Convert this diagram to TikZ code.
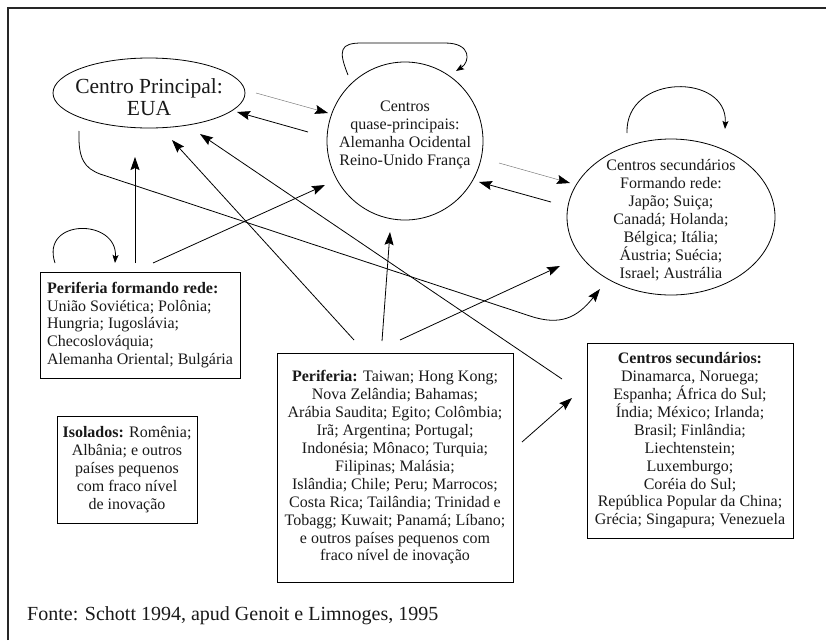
\documentclass[tikz,border=0pt]{standalone}
\usepackage{fontspec}
\setmainfont{Liberation Serif}
\usetikzlibrary{shapes.geometric,arrows.meta}
\begin{document}
\begin{tikzpicture}[x=1pt,y=-1pt,
  txt/.style={font=\fontsize{16}{17.9}\selectfont, align=center, inner sep=0pt, text=black!90},
  boxnode/.style={draw, line width=0.8pt, inner sep=0pt, align=center, text=black!90,
                  font=\fontsize{16}{17.9}\selectfont},
  ell/.style={draw, ellipse, line width=0.8pt, inner sep=0pt},
  arr/.style={line width=0.8pt, -{Stealth[length=13pt,width=9pt,inset=2pt]}},
  thinarr/.style={line width=0.45pt, draw=black!55, -{Stealth[length=13pt,width=9pt,inset=2pt,color=black]}},
  looparr/.style={line width=0.8pt, -{Stealth[length=8pt,width=6pt,inset=1.5pt]}}
]
\useasboundingbox (0,0) rectangle (826,640);
\fill[white] (0,0) rectangle (826,640);
% frame
\draw[line width=1.3pt, black!85] (8,640) -- (8,8) -- (826,8);

% main shapes
\node[ell, minimum width=192pt, minimum height=70pt] (cp) at (149,93) {};
\node[txt, font=\fontsize{21.5}{21.5}\selectfont] (cptext) at (149,97) {Centro Principal:\\EUA};

\node[ell, minimum width=156pt, minimum height=158pt] (qp) at (405,141) {};
\node[txt] (qptext) at (405,135) {Centros\\quase-principais:\\Alemanha Ocidental\\Reino-Unido França};

\node[ell, minimum width=208pt, minimum height=156pt] (sr) at (671,217) {};
\node[txt] (srtext) at (671,220) {Centros secundários\\Formando rede:\\Japão; Suiça;\\Canadá; Holanda;\\Bélgica; Itália;\\Áustria; Suécia;\\Israel; Austrália};

\node[boxnode, align=left, minimum width=200pt, minimum height=106pt] (pfr) at (140,325)
 {\textbf{Periferia formando rede:}\\União Soviética; Polônia;\\Hungria; Iugoslávia;\\Checoslováquia;\\Alemanha Oriental; Bulgária};

\node[boxnode, minimum width=140pt, minimum height=107pt] (iso) at (127,469.5)
 {\textbf{Isolados:} Romênia;\\Albânia; e outros\\países pequenos\\com fraco nível\\de inovação};

\node[boxnode, minimum width=236pt, minimum height=229pt] (per) at (395,467.5)
 {\textbf{Periferia:} Taiwan; Hong Kong;\\Nova Zelândia; Bahamas;\\Arábia Saudita; Egito; Colômbia;\\Irã; Argentina; Portugal;\\Indonésia; Mônaco; Turquia;\\Filipinas; Malásia;\\Islândia; Chile; Peru; Marrocos;\\Costa Rica; Tailândia; Trinidad e\\Tobagg; Kuwait; Panamá; Líbano;\\e outros países pequenos com\\fraco nível de inovação};

\node[boxnode, minimum width=206pt, minimum height=195pt] (cs) at (690,440.5)
 {\textbf{Centros secundários:}\\Dinamarca, Noruega;\\Espanha; África do Sul;\\Índia; México; Irlanda;\\Brasil; Finlândia;\\Liechtenstein;\\Luxemburgo;\\Coréia do Sul;\\República Popular da China;\\Grécia; Singapura; Venezuela};

\node[anchor=base west, inner sep=0pt, font=\fontsize{20}{22}\selectfont, text=black!90] (fonte) at (27,620)
 {Fonte: Schott 1994, apud Genoit e Limnoges, 1995};

% connector end points
\coordinate (cpE) at (256,93);   \coordinate (qpW1) at (328,113);
\coordinate (qpW2) at (308,132); \coordinate (cpE2) at (237,112);
\coordinate (pfrN1) at (135,263); \coordinate (cpS1) at (135,157);
\coordinate (pfrN2) at (153,263); \coordinate (qpSW) at (325,185);
\coordinate (perN1) at (354,340); \coordinate (cpS2) at (172,140);
\coordinate (perN2) at (382,341); \coordinate (qpS) at (390,232);
\coordinate (perN3) at (400,340); \coordinate (srW1) at (560,266);
\coordinate (csNW) at (562,379); \coordinate (cpS3) at (200,134);
\coordinate (perE) at (522,442); \coordinate (csW) at (572,398);
\coordinate (cpS4) at (79,131);  \coordinate (srSW) at (600,289);
\coordinate (qpE1) at (499,163); \coordinate (srW2) at (570,183);
\coordinate (srW3) at (551,202); \coordinate (qpE2) at (479,182);
\coordinate (qpTop) at (348,75); \coordinate (qpTopR) at (456,71);
\coordinate (srTop) at (627,133); \coordinate (srTopR) at (725,129);
\coordinate (pfrTop) at (55,263); \coordinate (pfrTopR) at (115,263);

% connectors
\draw[thinarr] (cpE) -- (qpW1);
\draw[arr] (qpW2) -- (cpE2);
\draw[arr] (pfrN1) -- (cpS1);
\draw[arr] (pfrN2) -- (qpSW);
\draw[arr] (perN1) -- (cpS2);
\draw[arr] (perN2) -- (qpS);
\draw[arr] (perN3) -- (srW1);
\draw[arr] (csNW) -- (cpS3);
\draw[arr] (perE) -- (csW);
\draw[arr] (cpS4) .. controls (78,160) and (85,168) .. (100,174) -- (530,316)
      .. controls (560,326) and (577,318) .. (srSW);
\draw[thinarr] (qpE1) -- (srW2);
\draw[arr] (srW3) -- (qpE2);

% loops
\draw[looparr] (qpTop) .. controls (338,50) and (340,43) .. (362,43) -- (445,43)
      .. controls (472,43) and (470,62) .. (qpTopR);
\draw[looparr] (srTop) .. controls (625,73) and (728,73) .. (srTopR);
\draw[looparr] (pfrTop) .. controls (40,218) and (118,218) .. (pfrTopR);
\end{tikzpicture}
\end{document}
